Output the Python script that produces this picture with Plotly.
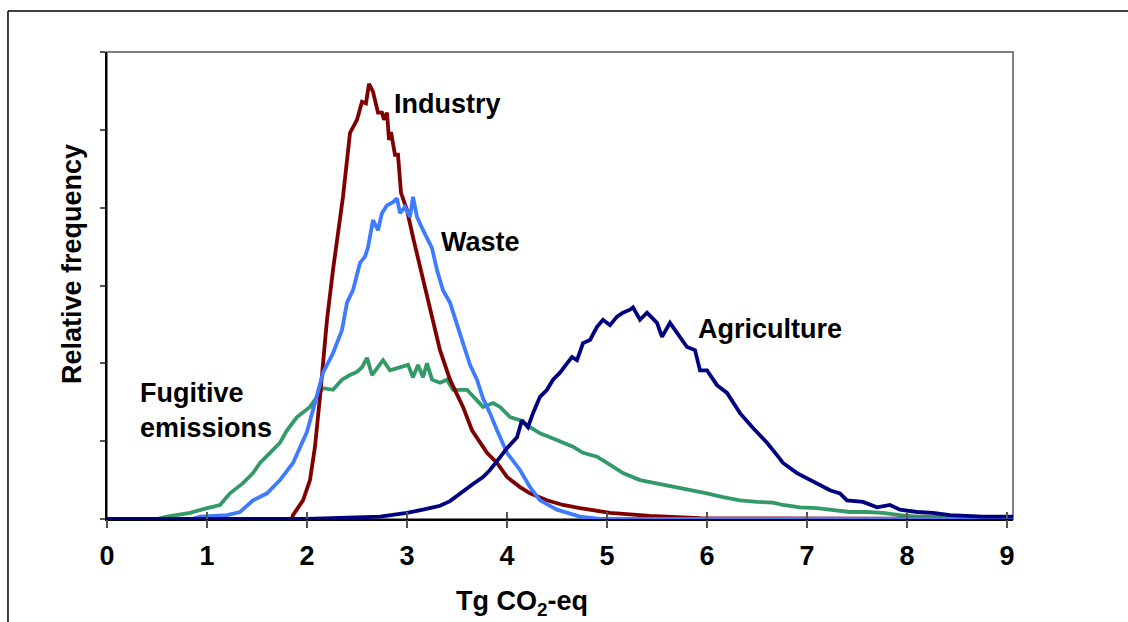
import plotly.graph_objects as go

# ---- data ----
industry_x = [0, 1.85, 1.86, 1.96, 2.03, 2.08, 2.13, 2.20, 2.26, 2.36, 2.43, 2.50, 2.55, 2.59, 2.62, 2.66,
              2.71, 2.75, 2.77, 2.80, 2.82, 2.84, 2.88, 2.91, 2.94, 3.00, 3.06, 3.13, 3.23, 3.33, 3.43,
              3.56, 3.65, 3.73, 3.80, 3.90, 4.00, 4.13, 4.23, 4.40, 4.56, 4.73, 5.03, 5.43, 5.93, 9.06]
industry_y = [0, 0, 0.05, 0.24, 0.50, 0.93, 1.57, 2.56, 3.20, 4.14, 4.96, 5.13, 5.36, 5.34, 5.59, 5.49,
              5.22, 5.22, 5.13, 5.22, 4.87, 4.97, 4.68, 4.68, 4.19, 3.97, 3.62, 3.24, 2.69, 2.17, 1.79,
              1.44, 1.14, 0.98, 0.85, 0.72, 0.54, 0.41, 0.33, 0.24, 0.18, 0.14, 0.08, 0.04, 0.01, 0]

waste_x = [0, 0.85, 0.93, 1.20, 1.33, 1.46, 1.60, 1.73, 1.86, 2.00, 2.10, 2.16, 2.26, 2.35, 2.40, 2.46,
           2.53, 2.58, 2.61, 2.66, 2.71, 2.75, 2.80, 2.86, 2.90, 2.93, 2.98, 3.03, 3.06, 3.10, 3.15,
           3.20, 3.25, 3.30, 3.36, 3.43, 3.50, 3.56, 3.63, 3.70, 3.76, 3.83, 3.90, 4.00, 4.13, 4.23,
           4.33, 4.50, 4.73, 4.93, 9.06]
waste_y = [0, 0, 0.03, 0.05, 0.09, 0.24, 0.33, 0.50, 0.72, 1.12, 1.59, 1.88, 2.13, 2.43, 2.78, 2.94,
           3.29, 3.37, 3.49, 3.84, 3.71, 3.93, 4.03, 4.07, 4.12, 3.93, 4.01, 3.88, 4.14, 3.88, 3.74,
           3.62, 3.48, 3.20, 2.94, 2.78, 2.52, 2.26, 1.98, 1.79, 1.55, 1.36, 1.14, 0.85, 0.63, 0.41,
           0.24, 0.12, 0.03, 0, 0]

fugitive_x = [0, 0.50, 0.60, 0.83, 1.00, 1.13, 1.23, 1.36, 1.46, 1.53, 1.63, 1.73, 1.80, 1.90, 2.03,
              2.10, 2.16, 2.26, 2.35, 2.43, 2.50, 2.55, 2.60, 2.65, 2.71, 2.76, 2.83, 2.93, 3.01, 3.06,
              3.11, 3.16, 3.20, 3.25, 3.33, 3.40, 3.46, 3.60, 3.70, 3.76, 3.86, 3.93, 4.03, 4.13, 4.23,
              4.33, 4.43, 4.56, 4.66, 4.76, 4.90, 5.00, 5.16, 5.33, 5.50, 5.66, 5.83, 6.00, 6.16, 6.33,
              6.50, 6.66, 6.76, 6.93, 7.10, 7.26, 7.43, 7.60, 7.76, 7.93, 8.10, 8.43, 8.76, 9.06]
fugitive_y = [0, 0, 0.03, 0.08, 0.14, 0.18, 0.33, 0.46, 0.59, 0.72, 0.85, 0.98, 1.14, 1.31, 1.44,
              1.57, 1.68, 1.66, 1.79, 1.85, 1.89, 1.95, 2.07, 1.85, 1.95, 2.04, 1.91, 1.95, 1.98, 1.82,
              1.98, 1.82, 2.00, 1.79, 1.75, 1.79, 1.66, 1.66, 1.53, 1.44, 1.49, 1.44, 1.31, 1.27, 1.18,
              1.10, 1.05, 0.98, 0.93, 0.85, 0.80, 0.72, 0.59, 0.50, 0.46, 0.41, 0.37, 0.33, 0.28, 0.24,
              0.22, 0.21, 0.18, 0.15, 0.14, 0.12, 0.09, 0.09, 0.08, 0.05, 0.03, 0.03, 0.01, 0]

agri_x = [0, 2.0, 2.73, 2.86, 3.00, 3.16, 3.33, 3.43, 3.56, 3.66, 3.76, 3.83, 3.91, 4.00, 4.10, 4.15,
          4.21, 4.26, 4.33, 4.40, 4.46, 4.53, 4.60, 4.65, 4.70, 4.76, 4.83, 4.90, 4.96, 5.03, 5.10,
          5.16, 5.23, 5.26, 5.33, 5.40, 5.50, 5.55, 5.63, 5.73, 5.80, 5.88, 5.93, 6.00, 6.10, 6.20,
          6.33, 6.46, 6.60, 6.70, 6.76, 6.90, 7.03, 7.10, 7.23, 7.33, 7.40, 7.56, 7.70, 7.83, 7.93,
          8.10, 8.26, 8.43, 8.76, 9.06]
agri_y = [0, 0, 0.03, 0.05, 0.08, 0.12, 0.17, 0.23, 0.36, 0.45, 0.54, 0.63, 0.76, 0.91, 1.05, 1.27,
          1.18, 1.36, 1.57, 1.66, 1.79, 1.88, 2.00, 2.08, 2.04, 2.26, 2.30, 2.47, 2.56, 2.49, 2.60,
          2.65, 2.69, 2.72, 2.56, 2.65, 2.52, 2.34, 2.52, 2.34, 2.21, 2.17, 1.91, 1.91, 1.72, 1.62,
          1.36, 1.17, 0.98, 0.82, 0.72, 0.59, 0.50, 0.46, 0.37, 0.33, 0.24, 0.22, 0.15, 0.18, 0.12,
          0.09, 0.08, 0.05, 0.03, 0.03]

x_ticks = [0, 1, 2, 3, 4, 5, 6, 7, 8, 9]
y_ticks = [0, 1, 2, 3, 4, 5, 6]

FONT = "Liberation Sans, Arial, sans-serif"
FS = 27

fig = go.Figure()
series = [
    ("Fugitive emissions", fugitive_x, fugitive_y, "#339966"),
    ("Industry", industry_x, industry_y, "#800000"),
    ("Waste", waste_x, waste_y, "#3D7BFF"),
    ("Agriculture", agri_x, agri_y, "#000080"),
]
for name, xs, ys, col in series:
    fig.add_trace(go.Scatter(x=xs, y=ys, mode="lines", name=name,
                             line=dict(color=col, width=3.8), showlegend=False))

# invisible trace on the overlay axis (gives the crossing tick part below the axis)
fig.add_trace(go.Scatter(x=[0], y=[0], xaxis="x2", mode="markers",
                         marker=dict(opacity=0), showlegend=False, hoverinfo="skip"))

fig.update_layout(
    width=1128, height=622,
    margin=dict(l=107, r=115, t=52, b=103),
    paper_bgcolor="white", plot_bgcolor="white",
    font=dict(family=FONT, size=FS, color="black"),
    xaxis=dict(range=[0, 9.06], tickvals=x_ticks, ticktext=[str(v) for v in x_ticks],
               ticks="inside", ticklen=7, tickwidth=1.5, tickcolor="#555555",
               showline=True, linecolor="black", linewidth=2, showgrid=False, zeroline=False,
               tickfont=dict(family=FONT, size=FS, color="black", weight="bold"),
               ticklabelstandoff=12),
    xaxis2=dict(range=[0, 9.06], overlaying="x", side="bottom", anchor="y",
                tickvals=x_ticks, showticklabels=False, ticks="outside", ticklen=8,
                tickwidth=1.5, tickcolor="#555555", showline=False, showgrid=False, zeroline=False),
    yaxis=dict(range=[0, 6], tickvals=y_ticks, showticklabels=False,
               ticks="outside", ticklen=5, tickwidth=1.5, tickcolor="#555555",
               showline=True, linecolor="black", linewidth=2, showgrid=False, zeroline=False),
    shapes=[
        # gray plot border (top/right)
        dict(type="rect", xref="paper", yref="paper", x0=0, x1=1, y0=0, y1=1,
             line=dict(color="#808080", width=2), layer="below"),
        # outer frame (top and left)
        dict(type="line", xref="paper", yref="paper", x0=-0.1093, x1=1.13, y0=1.0878, y1=1.0878,
             line=dict(color="black", width=1.5)),
        dict(type="line", xref="paper", yref="paper", x0=-0.1093, x1=-0.1093, y0=1.0878, y1=-0.23,
             line=dict(color="black", width=1.5)),
    ],
    annotations=[
        dict(text="<b>Industry</b>", x=3.40, y=5.33, xref="x", yref="y", showarrow=False,
             font=dict(size=FS)),
        dict(text="<b>Waste</b>", x=3.73, y=3.56, xref="x", yref="y", showarrow=False,
             font=dict(size=FS)),
        dict(text="<b>Agriculture</b>", x=6.63, y=2.44, xref="x", yref="y", showarrow=False,
             font=dict(size=FS)),
        dict(text="<b>Fugitive<br>emissions</b>", x=0.31, y=1.39, xref="x", yref="y",
             xanchor="left", align="left", showarrow=False, font=dict(size=FS)),
        dict(text="<b>Tg CO<sub>2</sub>-eq</b>", x=(522 - 107) / 906, y=(519 - 603) / 467,
             xref="paper", yref="paper", showarrow=False, yanchor="middle", font=dict(size=FS)),
        dict(text="<b>Relative frequency</b>", x=(72 - 107) / 906, y=(519 - 264) / 467,
             xref="paper", yref="paper", showarrow=False, textangle=-90,
             xanchor="center", yanchor="middle", font=dict(size=FS)),
    ],
)

fig.write_html("out.html")
